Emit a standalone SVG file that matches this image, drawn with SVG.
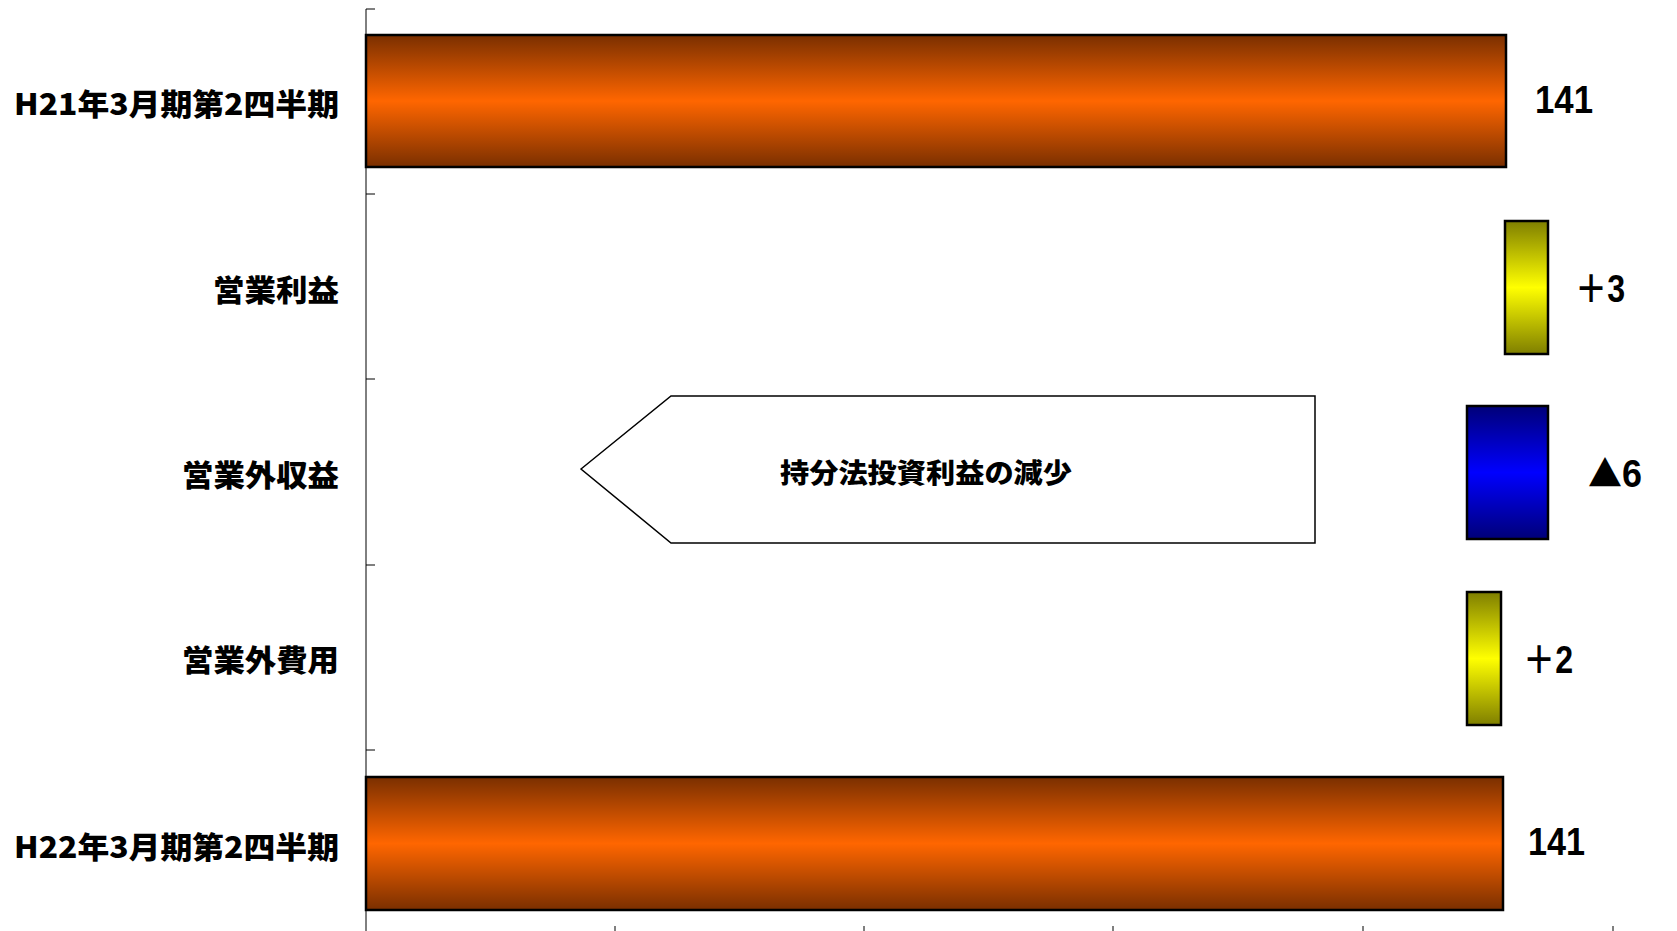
<svg xmlns="http://www.w3.org/2000/svg" width="1677" height="931" viewBox="0 0 1677 931">
<style>
.lbl{font-family:"Noto Sans CJK JP","Liberation Sans",sans-serif;font-weight:900;font-size:30px;fill:#000}
.val{font-family:"Liberation Sans","Noto Sans CJK JP",sans-serif;font-weight:700;font-size:38px;fill:#000}
.tri{font-family:"Noto Sans CJK JP",sans-serif;font-size:36px}
.bar{stroke:#000;stroke-width:2.5}
.axis{stroke:#000;stroke-width:1;fill:none}
.note{font-family:"Noto Sans CJK JP",sans-serif;font-weight:900;font-size:27px;fill:#000}
</style>
<defs>
<linearGradient id="gOrange" x1="0" y1="0" x2="0" y2="1">
<stop offset="0" stop-color="#7A2F00"/><stop offset="0.5" stop-color="#FF6600"/><stop offset="1" stop-color="#7A2F00"/>
</linearGradient>
<linearGradient id="gYellow" x1="0" y1="0" x2="0" y2="1">
<stop offset="0" stop-color="#7F7F00"/><stop offset="0.5" stop-color="#FFFF00"/><stop offset="1" stop-color="#7F7F00"/>
</linearGradient>
<linearGradient id="gBlue" x1="0" y1="0" x2="0" y2="1">
<stop offset="0" stop-color="#000078"/><stop offset="0.5" stop-color="#0000FF"/><stop offset="1" stop-color="#000078"/>
</linearGradient>
</defs>
<rect width="1677" height="931" fill="#fff"/>

<g id="axes">
<path class="axis" d="M366 9V931M366 9H375M366 194H375M366 379H375M366 565H375M366 750H375M615 926V931M864 926V931M1113 926V931M1363 926V931M1613 926V931"/>
</g>

<g id="labels">
<text class="lbl" x="339" y="102" text-anchor="end" dominant-baseline="central" textLength="325" lengthAdjust="spacingAndGlyphs">H21年3月期第2四半期</text>
<text class="lbl" x="339" y="288" text-anchor="end" dominant-baseline="central" textLength="126" lengthAdjust="spacingAndGlyphs">営業利益</text>
<text class="lbl" x="339" y="473" text-anchor="end" dominant-baseline="central" textLength="157" lengthAdjust="spacingAndGlyphs">営業外収益</text>
<text class="lbl" x="339" y="658" text-anchor="end" dominant-baseline="central" textLength="157" lengthAdjust="spacingAndGlyphs">営業外費用</text>
<text class="lbl" x="339" y="845" text-anchor="end" dominant-baseline="central" textLength="325" lengthAdjust="spacingAndGlyphs">H22年3月期第2四半期</text>
</g>

<g id="bar-h21">
<rect class="bar" x="366" y="35" width="1140" height="132" fill="url(#gOrange)"/>
<text class="val" x="1535" y="113" textLength="58" lengthAdjust="spacingAndGlyphs">141</text>
</g>
<g id="bar-op">
<rect class="bar" x="1505" y="221" width="43" height="133" fill="url(#gYellow)"/>
<text class="val" x="1575" y="302" textLength="50" lengthAdjust="spacingAndGlyphs">＋3</text>
</g>
<g id="bar-nonop-inc">
<rect class="bar" x="1467" y="406" width="81" height="133" fill="url(#gBlue)"/>
<text class="val" x="1588" y="487" textLength="54" lengthAdjust="spacingAndGlyphs"><tspan class="tri">▲</tspan>6</text>
</g>
<g id="bar-nonop-exp">
<rect class="bar" x="1467" y="592" width="34" height="133" fill="url(#gYellow)"/>
<text class="val" x="1523" y="673" textLength="50" lengthAdjust="spacingAndGlyphs">＋2</text>
</g>
<g id="bar-h22">
<rect class="bar" x="366" y="777" width="1137" height="133" fill="url(#gOrange)"/>
<text class="val" x="1528" y="855" textLength="57" lengthAdjust="spacingAndGlyphs">141</text>
</g>

<g id="callout">
<polygon points="581,469 671,396 1315,396 1315,543 671,543" fill="#fff" stroke="#000" stroke-width="1.5"/>
<text class="note" x="926" y="471" text-anchor="middle" dominant-baseline="central" textLength="292" lengthAdjust="spacingAndGlyphs">持分法投資利益の減少</text>
</g>
</svg>
